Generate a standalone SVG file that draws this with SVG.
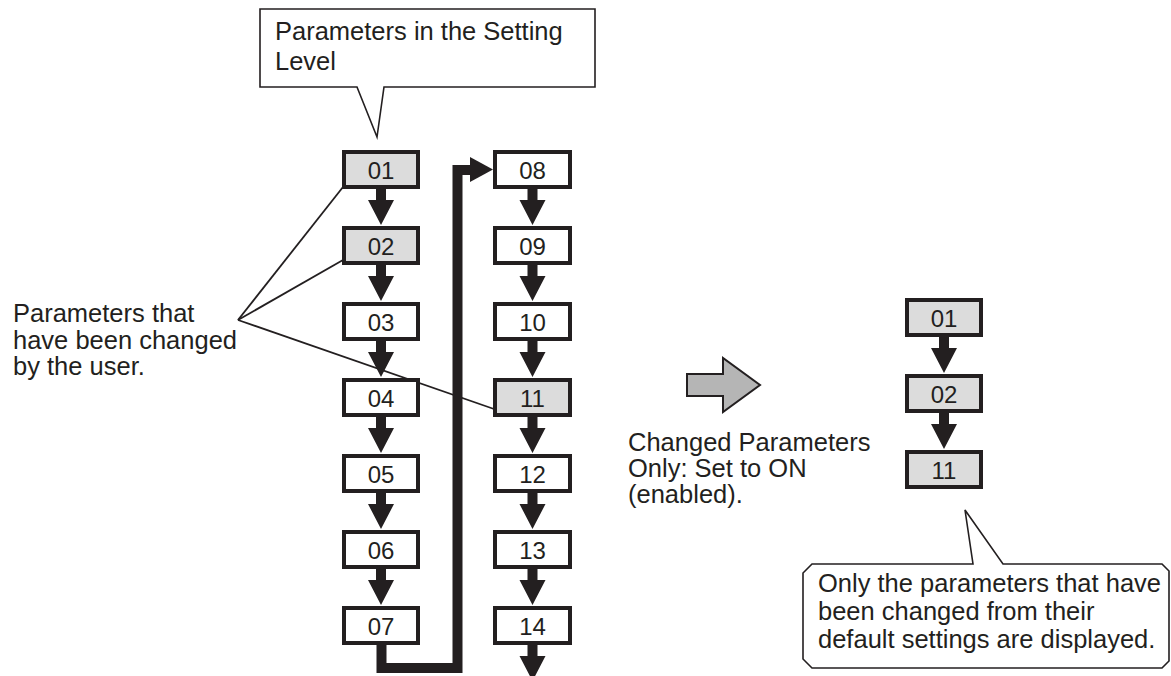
<svg xmlns="http://www.w3.org/2000/svg" xmlns:xlink="http://www.w3.org/1999/xlink" width="1171" height="676" viewBox="0 0 1171 676">
<style>
  .lbl{font-family:"Liberation Sans",Arial,sans-serif;font-size:25.5px;fill:#231f20}
  .num{font-family:"Liberation Sans",Arial,sans-serif;font-size:24px;fill:#231f20;text-anchor:middle}
  .box{stroke:#231f20;stroke-width:4;fill:#ffffff}
  .chg{fill:#dcdcdc}
  .call{fill:#ffffff;stroke:#231f20;stroke-width:1.6;stroke-linejoin:miter}
  .lead{stroke:#231f20;stroke-width:1.8;fill:none}
  .thick{stroke:#231f20;stroke-width:10;fill:none;stroke-linejoin:miter;stroke-linecap:butt}
  .ah{fill:#231f20}
</style>
<defs>
  <path id="dn" d="M-5 0 H5 V11 H13 L0 36 L-13 11 H-5 Z" fill="#231f20"/>
</defs>

<g id="callout-top">
  <path class="call" d="M260 9 H595 V87 H384 L377 137 L357 87 H260 Z"/>
  <text class="lbl" x="275" y="40">Parameters in the Setting</text>
  <text class="lbl" x="275" y="70">Level</text>
</g>

<g id="label-changed">
  <text class="lbl" x="13" y="322">Parameters that</text>
  <text class="lbl" x="13" y="348.5">have been changed</text>
  <text class="lbl" x="13" y="375">by the user.</text>
</g>

<g id="connectors">
  <line class="lead" x1="238" y1="320" x2="343" y2="187"/>
  <line class="lead" x1="238" y1="320" x2="343" y2="260"/>
  <line class="lead" x1="238" y1="320" x2="494" y2="409"/>
  <use xlink:href="#dn" x="381" y="189"/>
  <use xlink:href="#dn" x="381" y="265"/>
  <use xlink:href="#dn" x="381" y="341"/>
  <use xlink:href="#dn" x="381" y="417"/>
  <use xlink:href="#dn" x="381" y="493"/>
  <use xlink:href="#dn" x="381" y="569"/>
  <use xlink:href="#dn" x="532.5" y="189"/>
  <use xlink:href="#dn" x="532.5" y="265"/>
  <use xlink:href="#dn" x="532.5" y="341"/>
  <use xlink:href="#dn" x="532.5" y="417"/>
  <use xlink:href="#dn" x="532.5" y="493"/>
  <use xlink:href="#dn" x="532.5" y="569"/>
  <use xlink:href="#dn" x="532.5" y="645"/>
  <path class="thick" d="M381.5 645 V668 H457.5 V170 H472"/>
  <polygon class="ah" points="470,157 493,169.5 470,182"/>
  <use xlink:href="#dn" x="944" y="337"/>
  <use xlink:href="#dn" x="944" y="413"/>
  <polygon points="687,374 723,374 723,358 760,385 723,412 723,396 687,396" fill="#b5b5b5" stroke="#231f20" stroke-width="2" stroke-linejoin="miter"/>
</g>

<g id="n01"><rect class="box chg" x="344" y="152" width="74" height="35"/><text class="num" x="381" y="178.5">01</text></g>
<g id="n02"><rect class="box chg" x="344" y="228" width="74" height="35"/><text class="num" x="381" y="254.5">02</text></g>
<g id="n03"><rect class="box" x="344" y="304" width="74" height="35"/><text class="num" x="381" y="330.5">03</text></g>
<g id="n04"><rect class="box" x="344" y="380" width="74" height="35"/><text class="num" x="381" y="406.5">04</text></g>
<g id="n05"><rect class="box" x="344" y="456" width="74" height="35"/><text class="num" x="381" y="482.5">05</text></g>
<g id="n06"><rect class="box" x="344" y="532" width="74" height="35"/><text class="num" x="381" y="558.5">06</text></g>
<g id="n07"><rect class="box" x="344" y="608" width="74" height="35"/><text class="num" x="381" y="634.5">07</text></g>

<g id="n08"><rect class="box" x="495" y="152" width="75" height="35"/><text class="num" x="532.5" y="178.5">08</text></g>
<g id="n09"><rect class="box" x="495" y="228" width="75" height="35"/><text class="num" x="532.5" y="254.5">09</text></g>
<g id="n10"><rect class="box" x="495" y="304" width="75" height="35"/><text class="num" x="532.5" y="330.5">10</text></g>
<g id="n11"><rect class="box chg" x="495" y="380" width="75" height="35"/><text class="num" x="532.5" y="406.5">11</text></g>
<g id="n12"><rect class="box" x="495" y="456" width="75" height="35"/><text class="num" x="532.5" y="482.5">12</text></g>
<g id="n13"><rect class="box" x="495" y="532" width="75" height="35"/><text class="num" x="532.5" y="558.5">13</text></g>
<g id="n14"><rect class="box" x="495" y="608" width="75" height="35"/><text class="num" x="532.5" y="634.5">14</text></g>

<g id="label-mid">
  <text class="lbl" x="628" y="451">Changed Parameters</text>
  <text class="lbl" x="628" y="477">Only: Set to ON</text>
  <text class="lbl" x="628" y="503">(enabled).</text>
</g>

<g id="r01"><rect class="box chg" x="907" y="300" width="74" height="35"/><text class="num" x="944" y="326.5">01</text></g>
<g id="r02"><rect class="box chg" x="907" y="376" width="74" height="35"/><text class="num" x="944" y="402.5">02</text></g>
<g id="r11"><rect class="box chg" x="907" y="452" width="74" height="35"/><text class="num" x="944" y="478.5">11</text></g>

<g id="callout-bottom">
  <path class="call" d="M812 564 H973 L965 510 L1003 564 H1162 L1169 571 V661 L1162 668 H812 L803 659 V573 Z"/>
  <text class="lbl" x="818" y="592">Only the parameters that have</text>
  <text class="lbl" x="818" y="620">been changed from their</text>
  <text class="lbl" x="818" y="648">default settings are displayed.</text>
</g>
</svg>
